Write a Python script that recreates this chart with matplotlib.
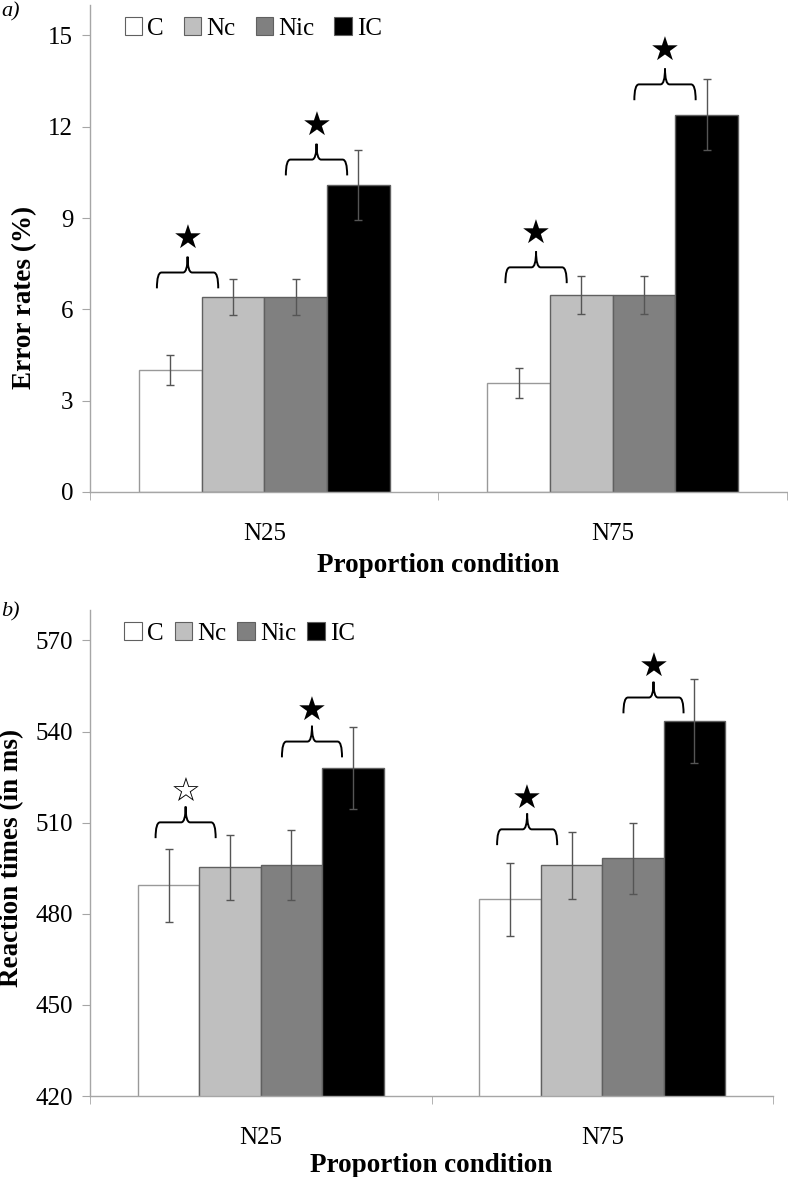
import numpy as np
import matplotlib
matplotlib.use("Agg")
import matplotlib.pyplot as plt
from matplotlib.path import Path
from matplotlib.patches import PathPatch, Patch

conditions = ["C", "Nc", "Nic", "IC"]
groups = ["N25", "N75"]
colors = ["#ffffff", "#bfbfbf", "#808080", "#000000"]

# error rates (%) per condition, one value per group
err_mean = {"C": [4.0, 3.58], "Nc": [6.4, 6.47], "Nic": [6.4, 6.47], "IC": [10.1, 12.4]}
err_se = {"C": [0.5, 0.5], "Nc": [0.6, 0.62], "Nic": [0.6, 0.62], "IC": [1.15, 1.17]}

# reaction times (ms)
rt_mean = {"C": [489.4, 484.8], "Nc": [495.3, 496.0], "Nic": [496.0, 498.3], "IC": [527.9, 543.4]}
rt_se = {"C": [12.0, 12.0], "Nc": [10.7, 11.0], "Nic": [11.5, 11.7], "IC": [13.5, 13.8]}

# significance braces: [C vs Nc, Nic vs IC] per group, y of brace tips
err_brace_y = [[6.69, 10.4], [6.86, 12.87]]
rt_brace_y = [[504.9, 531.5], [502.6, 546.0]]
err_brace_sig = [[True, True], [True, True]]
rt_brace_sig = [[False, True], [True, True]]

plt.rcParams["font.family"] = ["Liberation Serif", "DejaVu Serif"]

fig = plt.figure(figsize=(7.88, 11.77), dpi=100)
ax1 = fig.add_axes([0.1142, 0.5820, 0.8845, 0.4138])
ax2 = fig.add_axes([0.1142, 0.0688, 0.8668, 0.4129])

width = 0.18
x = np.arange(len(groups))
offsets = (np.arange(4) - 1.5) * width
axis_gray = "#a6a6a6"


def brace(ax, xc, half, y0, step):
    x0, x1 = xc - half, xc + half
    y1 = y0 + step
    y2 = y1 + step
    dx = half * 0.15
    verts = [(x0, y0), (x0, y1), (x0 + dx, y1), (xc - dx, y1), (xc, y1), (xc, y2),
             (xc, y1), (xc + dx, y1), (x1 - dx, y1), (x1, y1), (x1, y0)]
    codes = [Path.MOVETO, Path.CURVE3, Path.CURVE3, Path.LINETO, Path.CURVE3, Path.CURVE3,
             Path.CURVE3, Path.CURVE3, Path.LINETO, Path.CURVE3, Path.CURVE3]
    ax.add_patch(PathPatch(Path(verts, codes), fill=False, lw=1.4, color="black"))


def panel(ax, means, ses, brace_y, brace_sig, ylim, yticks, ylabel, step, star_off, colsp):
    for i, c in enumerate(conditions):
        edge = "#999999" if c == "C" else "#606060"
        ax.bar(x + offsets[i], means[c], width, color=colors[i], edgecolor=edge,
               linewidth=1.0, zorder=2)
        ax.errorbar(x + offsets[i], means[c], yerr=ses[c], fmt="none", ecolor="#555555",
                    elinewidth=1.0, capsize=3, capthick=1.0, zorder=3)
    for g in range(len(groups)):
        pairs = [(0, 1, -0.04), (2, 3, -0.03)]
        for k, (a, b, shift) in enumerate(pairs):
            xc = x[g] + (offsets[a] + offsets[b]) / 2 + shift
            y0 = brace_y[g][k]
            brace(ax, xc, 0.088, y0, step)
            sym = "\u2605" if brace_sig[g][k] else "\u2606"
            ax.text(xc, y0 + star_off, sym, ha="center", va="center", fontsize=24,
                    family="DejaVu Sans", color="black")
    ax.set_xlim(-0.5, 1.5)
    ax.set_ylim(*ylim)
    ax.set_yticks(yticks)
    ax.tick_params(axis="y", direction="out", length=6, color=axis_gray, labelsize=18, pad=6)
    ax.set_xticks(x)
    ax.set_xticklabels(groups, fontsize=18)
    ax.tick_params(axis="x", which="major", length=0, pad=22)
    ax.set_xticks([-0.5, 0.5, 1.5], minor=True)
    ax.tick_params(axis="x", which="minor", direction="out", length=6, color=axis_gray)
    for s in ["top", "right"]:
        ax.spines[s].set_visible(False)
    for s in ["left", "bottom"]:
        ax.spines[s].set_color(axis_gray)
        ax.spines[s].set_linewidth(1.0)
    ax.set_ylabel(ylabel, fontsize=19.5, fontweight="bold")
    ax.set_xlabel("Proportion condition", fontsize=19.5, fontweight="bold")
    handles = [Patch(facecolor=colors[i], edgecolor="#606060", linewidth=0.8)
               for i in range(4)]
    ax.legend(handles, conditions, loc="center left", bbox_to_anchor=(0.05, 0.952),
              ncol=4, frameon=False, fontsize=18, handlelength=0.7, handleheight=0.7,
              handletextpad=0.2, columnspacing=colsp, borderpad=0, borderaxespad=0)


panel(ax1, err_mean, err_se, err_brace_y, err_brace_sig, (0, 16), np.arange(0, 16, 3),
      "Error rates (%)", 0.52, 1.6, 0.8)
panel(ax2, rt_mean, rt_se, rt_brace_y, rt_brace_sig, (420, 580), np.arange(420, 571, 30),
      "Reaction times (in ms)", 5.2, 15.0, 0.45)
ax1.yaxis.set_label_coords(-0.076, 0.40)
ax2.yaxis.set_label_coords(-0.096, 0.49)
ax1.xaxis.set_label_coords(0.5, -0.125)
ax2.xaxis.set_label_coords(0.5, -0.117)

fig.text(0.002, 1 - 12 / 1177, "a)", fontsize=16, style="italic", va="center")
fig.text(0.002, 1 - 612 / 1177, "b)", fontsize=16, style="italic", va="center")

fig.savefig("out.png", dpi=100)
